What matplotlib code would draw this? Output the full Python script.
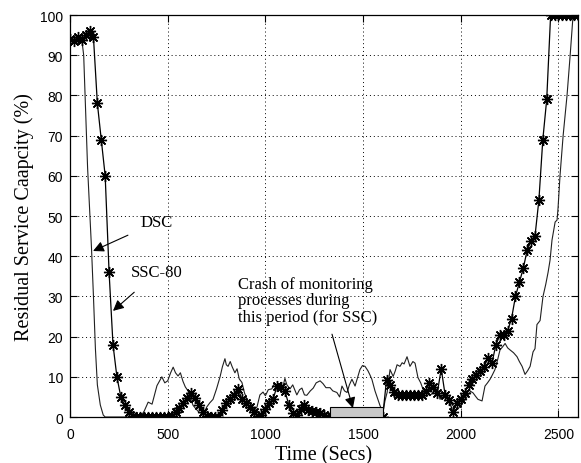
import numpy as np
import matplotlib.pyplot as plt
from matplotlib.patches import Rectangle

plt.rcParams['font.family'] = ['Liberation Sans', 'DejaVu Sans']

# DSC: residual capacity sampled at irregular times (s, %)
dsc_t = [0, 20, 40, 60, 70, 80, 90, 100, 110, 120,
         130, 140, 155, 170, 180, 360, 380, 400, 420, 445,
         470, 485, 500, 515, 528, 540, 553, 565, 578, 590,
         604, 617, 630, 645, 660, 683, 700, 715, 732, 750,
         768, 780, 793, 800, 809, 820, 830, 844, 855, 866,
         880, 893, 906, 920, 931, 945, 957, 972, 988, 1000,
         1015, 1033, 1045, 1059, 1075, 1090, 1100, 1110, 1126, 1140,
         1161, 1175, 1187, 1200, 1212, 1230, 1245, 1260, 1280, 1295,
         1310, 1331, 1345, 1366, 1380, 1392, 1405, 1418, 1430, 1443,
         1459, 1470, 1484, 1497, 1510, 1525, 1535, 1545, 1561, 1575,
         1587, 1602, 1612, 1623, 1638, 1654, 1665, 1674, 1689, 1700,
         1710, 1725, 1740, 1755, 1766, 1781, 1795, 1807, 1825, 1842,
         1860, 1878, 1894, 1910, 1929, 1945, 1960, 1986, 2011, 2025,
         2037, 2050, 2063, 2075, 2088, 2109, 2124, 2137, 2150, 2162,
         2175, 2190, 2201, 2215, 2227, 2240, 2252, 2270, 2288, 2300,
         2314, 2329, 2342, 2355, 2370, 2380, 2390, 2406, 2421, 2435,
         2447, 2457, 2467, 2483, 2493, 2498, 2508, 2524, 2544, 2560,
         2575, 2600]
dsc_v = [94, 93.5, 94.5, 94, 90, 76, 62, 52, 42, 30,
         17, 8, 3, 0.5, 0, 0, 1.5, 3.7, 3.2, 7.8,
         10, 8.5, 9, 11, 12.4, 11, 10.2, 11, 8.9, 7.5,
         6.5, 4.5, 2.9, 2, 1.2, 0.7, 2.5, 3.5, 4.4, 7,
         10, 12.5, 14.5, 13, 12.6, 13.8, 12.5, 11, 12, 9.5,
         8.6, 6, 4.4, 3.5, 2.7, 1.8, 2.5, 5.5, 6.2, 5.3,
         6.8, 7, 8.2, 7.5, 8.3, 7.6, 9.6, 8, 7, 8,
         5.5, 6.8, 7.2, 5.5, 5.4, 6.5, 7.2, 8.5, 9, 8.3,
         7.3, 7.3, 6.5, 6.1, 5, 7.7, 6.5, 6.1, 8, 9.4,
         7.7, 9.5, 11.8, 12.8, 12.6, 11.5, 10.5, 9.4, 6.5, 4.5,
         2.8, 1.2, 4, 6.1, 11.8, 10.1, 11.5, 13, 12.6, 13.5,
         13.2, 15, 12.6, 13.8, 13.4, 9.8, 8.5, 6.9, 6, 5.3,
         6.2, 6.9, 4.4, 5.5, 5.3, 3.8, 2.8, 2, 3.6, 4.5,
         5.3, 6.4, 6, 5.2, 4.4, 4, 7.7, 8.5, 9.4, 10.5,
         11.8, 14.5, 16.7, 17.5, 18.3, 17.2, 16.7, 16, 15, 13.8,
         12.6, 10.6, 11.5, 12.6, 16.2, 17, 23, 24, 30, 33,
         36, 39, 44, 48.5, 49, 52, 60, 70, 80, 90,
         100, 100]

# SSC-80: one sample every 20 s from 0 to 2600 s
ssc_t = np.arange(0, 2601, 20)
ssc_v = [94, 93.5, 94.5, 93.8, 95, 96, 94.5, 78, 69, 60,
         36, 18, 10, 5, 3, 1.2, 0.3, 0, 0, 0,
         0, 0, 0, 0, 0, 0, 0.2, 1.2, 2.3, 3.5,
         4.8, 6, 4.8, 3, 1.2, 0.2, 0, 0, 0, 1.8,
         3.5, 4.5, 5.5, 7, 4.5, 3.4, 2.5, 1.2, 0.2, 0.5,
         2, 3.5, 4.5, 7.8, 7.5, 6.5, 3, 1, 0.6, 2,
         2.9, 1.8, 1.4, 1.2, 1, 0.6, 0.1, 0, 0, 0,
         0, 0, 0, 0, 0, 0, 0, 0, 0, 0,
         0, 9.2, 8, 6.3, 5.6, 5.4, 5.4, 5.5, 5.4, 5.5,
         5.4, 6.5, 8.5, 7.5, 6, 12, 5.5, 4.2, 1.2, 3.5,
         4.5, 6, 8, 9.5, 10.5, 11.5, 12.5, 14.8, 13.5, 18,
         20.3, 20.5, 21.5, 24.5, 30, 33.5, 37, 41.5, 43.8, 45,
         54, 69, 79, 100, 100, 100, 100, 100, 100, 100,
         100]

# period during which the SSC monitoring processes were down
crash_start, crash_end, crash_height = 1331, 1602, 2.4

fig = plt.figure(figsize=(5.81, 4.64), dpi=100)
ax = fig.add_axes([0.1205, 0.0991, 0.8743, 0.8664])

ax.plot(dsc_t, dsc_v, color='#202020', lw=0.8, zorder=2)
# asterisk markers: 8 spokes
ax.plot(ssc_t, ssc_v, color='k', lw=0.9, marker=(8, 2, 0), markersize=8,
        markeredgecolor='k', markeredgewidth=1.0, zorder=2)

ax.add_patch(Rectangle((crash_start, 0), crash_end - crash_start, crash_height,
                       facecolor='#c8c8c8', edgecolor='k', lw=0.8, zorder=3))

ax.set_xlim(0, 2600)
ax.set_ylim(0, 100)
ax.set_xticks([0, 500, 1000, 1500, 2000, 2500])
ax.set_yticks(range(0, 101, 10))
ax.grid(True, color='k', linestyle=(0, (1, 3)), lw=0.7)
ax.tick_params(direction='in', top=True, right=True, length=5, labelsize=10)
ax.tick_params(axis='x', pad=7)
ax.tick_params(axis='y', pad=5)
for s in ax.spines.values():
    s.set_linewidth(0.9)

serif = ['Liberation Serif', 'DejaVu Serif']
ax.set_xlabel('Time (Secs)', family=serif, fontsize=14.5, labelpad=3)
ax.set_ylabel('Residual Service Caapcity (%)', family=serif, fontsize=14.5, labelpad=4)

arrow = dict(arrowstyle='-|>', color='k', lw=0.8, mutation_scale=16)
ax.annotate('DSC', xy=(118, 41.3), xytext=(445, 48.5), family=serif, fontsize=12,
            ha='center', va='center', arrowprops=dict(arrow, shrinkA=8, shrinkB=0))
ax.annotate('SSC-80', xy=(220, 26.4), xytext=(445, 36), family=serif, fontsize=12,
            ha='center', va='center', arrowprops=dict(arrow, shrinkA=10, shrinkB=0))
ax.text(860, 29, 'Crash of monitoring\nprocesses during\nthis period (for SSC)',
        family=serif, fontsize=12, ha='left', va='center', linespacing=1.05)
ax.annotate('', xy=(1448, 2.2), xytext=(1341, 20.6), arrowprops=dict(arrow, shrinkA=0, shrinkB=0))

fig.savefig('out.png', dpi=100)
